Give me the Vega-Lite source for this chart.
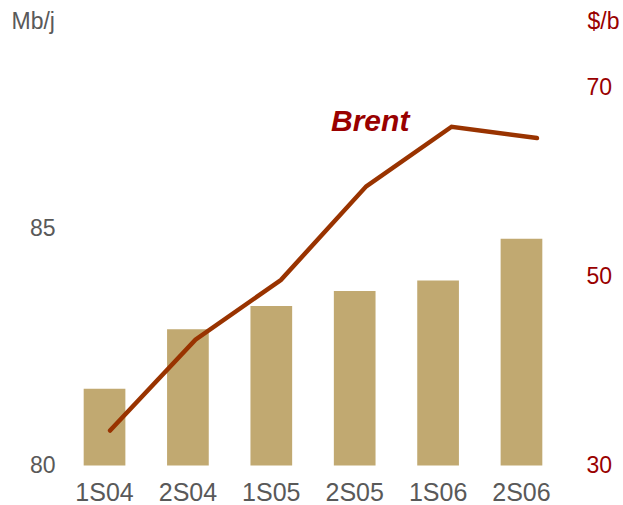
{
  "$schema": "https://vega.github.io/schema/vega-lite/v6.json",
  "autosize": "none",
  "width": 502,
  "height": 378.5,
  "padding": {"left": 62, "top": 87, "right": 59, "bottom": 39.5},
  "background": "white",
  "config": {
    "view": {"stroke": null},
    "font": "Liberation Sans",
    "axis": {"grid": false, "domain": false, "ticks": false, "labelFont": "Liberation Sans", "titleFont": "Liberation Sans"}
  },
  "data": {
    "values": [
      {"period": "1S04", "mbj": 81.62, "brent": 33.7},
      {"period": "2S04", "mbj": 82.88, "brent": 43.3},
      {"period": "1S05", "mbj": 83.37, "brent": 49.6},
      {"period": "2S05", "mbj": 83.69, "brent": 59.5},
      {"period": "1S06", "mbj": 83.91, "brent": 65.8},
      {"period": "2S06", "mbj": 84.79, "brent": 64.6}
    ]
  },
  "layer": [
    {
      "mark": {"type": "bar", "color": "#C1A971"},
      "encoding": {
        "x": {
          "field": "period", "type": "nominal", "sort": null,
          "scale": {"paddingInner": 0.5, "paddingOuter": 0.26},
          "axis": {"title": null, "labelAngle": 0, "labelFontSize": 25, "labelColor": "#595959", "labelBaseline": "top", "labelPadding": 15}
        },
        "y": {
          "field": "mbj", "type": "quantitative",
          "scale": {"domain": [80, 88], "nice": false, "zero": false},
          "axis": {
            "orient": "left", "values": [80, 85], "labelFontSize": 23, "labelColor": "#595959", "labelPadding": 7,
            "title": "Mb/j", "titleAngle": 0, "titleFontSize": 23, "titleFontWeight": "normal", "titleColor": "#595959",
            "titleAlign": "left", "titleBaseline": "alphabetic", "titleX": -51, "titleY": -59
          }
        },
        "y2": {"datum": 80}
      }
    },
    {
      "encoding": {
        "x": {
          "field": "period", "type": "nominal", "sort": null,
          "scale": {"type": "point", "padding": 0.44, "align": 0.64},
          "axis": null
        },
        "y": {
          "field": "brent", "type": "quantitative",
          "scale": {"domain": [30, 70], "nice": false, "zero": false},
          "axis": {
            "orient": "right", "values": [30, 50, 70], "labelFontSize": 23, "labelColor": "#990000", "labelPadding": 22,
            "title": "$/b", "titleAngle": 0, "titleFontSize": 23, "titleFontWeight": "normal", "titleColor": "#990000",
            "titleAlign": "left", "titleBaseline": "alphabetic", "titleX": 23, "titleY": -59
          }
        }
      },
      "layer": [
        {"mark": {"type": "line", "color": "#993300", "strokeWidth": 4.5, "strokeCap": "round", "strokeJoin": "miter"}},
        {
          "transform": [{"filter": "datum.period === '2S05'"}],
          "mark": {"type": "text", "text": "Brent", "fontSize": 30, "fontWeight": "bold", "fontStyle": "italic", "color": "#990000", "align": "center", "baseline": "middle", "dx": 4},
          "encoding": {"y": {"datum": 66.3, "type": "quantitative"}}
        }
      ]
    }
  ],
  "resolve": {"scale": {"x": "independent", "y": "independent"}}
}
